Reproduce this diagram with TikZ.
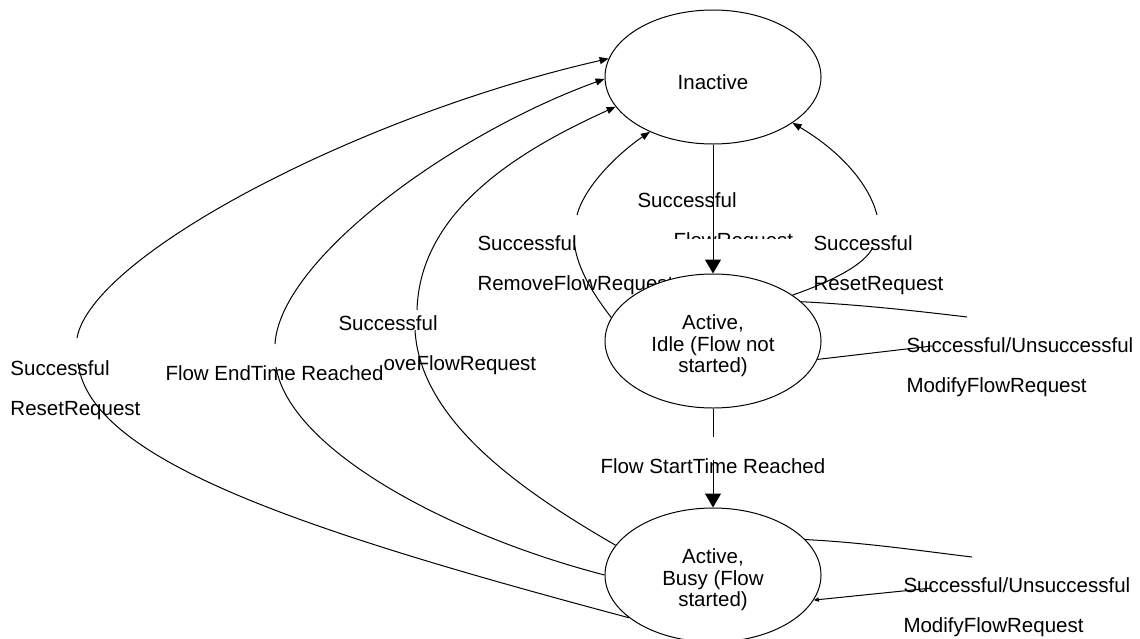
\documentclass[tikz,border=0pt]{standalone}
\usepackage{fontspec}
\setmainfont{Liberation Sans}
\usetikzlibrary{arrows.meta,positioning,shapes.geometric}

\begin{document}
\begin{tikzpicture}[->,>={Triangle[length=4.5pt,width=3.5pt]},x=0.5pt,y=-0.5pt,
        line width=0.5pt,
        state node/.style={ellipse,draw,fill=white,minimum width=108pt,minimum height=67pt,
            align=center,font=\fontsize{10.25pt}{10.75pt}\selectfont},
        text node/.style={anchor=base west,inner sep=0pt,align=left,
            font=\fontsize{10.25pt}{20pt}\selectfont},
        big tip/.style={-{Triangle[length=7pt,width=8pt]}}]

    \useasboundingbox (0,0) rectangle (1140,638);

    % label partly hidden by the idle state (base = last line)
    \node[text node] (lremidle) at (477,290) {Successful\\RemoveFlowRequest};

    \node[state node, text height=13pt] (inactive) at (713,77) {Inactive};
    \node[state node, text height=34pt] (idle) [below=64.5pt of inactive] {Active,\\Idle (Flow not\\started)};
    \node[state node, text height=34pt] (busy) [below=49.5pt of idle] {Active,\\Busy (Flow\\started)};

    % gaps where the labels sit
    \coordinate (st1) at (713,437);  \coordinate (st2) at (713,460);
    \coordinate (rr1) at (78,363);   \coordinate (rr2) at (77,338);
    \coordinate (et1) at (276,367);  \coordinate (et2) at (275,344);
    \coordinate (rf1) at (415,330);  \coordinate (rf2) at (417,310);
    \coordinate (ri1) at (574,240);  \coordinate (ri2) at (577,215);
    \coordinate (rs1) at (873,247);  \coordinate (rs2) at (877,215);
    \coordinate (ml1) at (967,317);  \coordinate (ml2) at (932,346);
    \coordinate (mb1) at (972,557);  \coordinate (mb2) at (932,588);

    \draw [big tip] (inactive) -- (idle);
    \draw [-] (idle) -- (st1);
    \draw [big tip] (st2) -- (busy);

    \draw [-] (busy.207) .. controls (300,530) and (90,460) .. (rr1);
    \draw (rr2) .. controls (92,255) and (360,115) .. (inactive.170);
    \draw [-] (busy.180) .. controls (450,535) and (290,450) .. (et1);
    \draw (et2) .. controls (280,260) and (450,135) .. (inactive.181);
    \draw [-] (busy.163) .. controls (520,490) and (420,420) .. (rf1);
    \draw (rf2) .. controls (420,210) and (520,150) .. (inactive.197);

    \draw [-] (idle.167) .. controls (590,290) and (576,265) .. (ri1);
    \draw (ri2) .. controls (585,185) and (620,152) .. (inactive.221);
    \draw [-] (idle.30) .. controls (830,282) and (865,265) .. (rs1);
    \draw (rs2) .. controls (868,180) and (835,148) .. (inactive.330);

    \draw [-] (idle.24) .. controls +(60,3) and +(-50,-6) .. (ml1);
    \draw [-] (ml2) -- (idle.350);
    \draw [-] (busy.21) .. controls +(60,3) and +(-50,-6) .. (mb1);
    \draw [-{Triangle[length=2.5pt,width=2pt]}] (mb2) -- (busy.346);

    \node[text node] (lreset) at (10,415) {Successful\\ResetRequest};
    \node[text node] (lend) at (165,380) {Flow EndTime Reached};
    \node[text node] (lrem) at (338,330) {Successful};
    \node[text node] (lremb) at (383,370) {oveFlowRequest};
    \node[text node] (lflow) at (637,207) {Successful};
    \begin{scope}
        \clip (600,220) rectangle (820,238);
        \node[text node] (lflowb) at (673,247) {FlowRequest};
    \end{scope}
    \node[text node] (lresetidle) at (813,290) {Successful\\ResetRequest};
    \node[text node] (lstart) at (600,473) {Flow StartTime Reached};
    \node[text node] (lmodidle) at (906,392) {Successful/Unsuccessful\\ModifyFlowRequest};
    \node[text node] (lmodbusy) at (903,632) {Successful/Unsuccessful\\ModifyFlowRequest};
\end{tikzpicture}
\end{document}
